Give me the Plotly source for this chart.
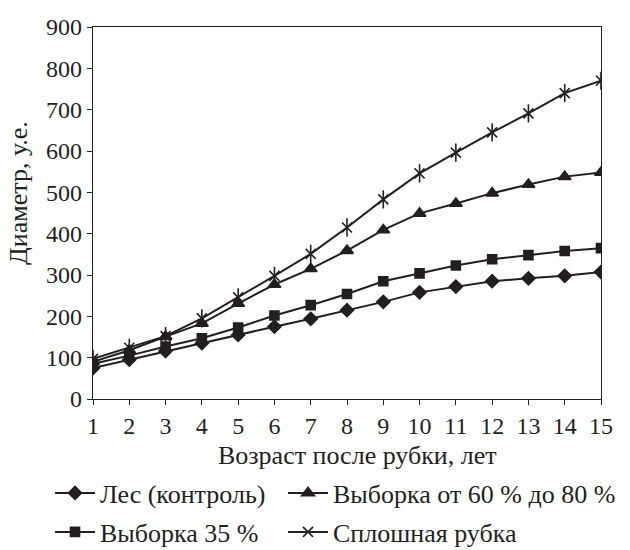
import plotly.graph_objects as go

# Возраст после рубки, лет
years = list(range(1, 16))

# Диаметр, у.е.
forest_control = [75, 95, 116, 135, 155, 175, 194, 215, 235, 258, 272, 285, 292, 298, 307]
selective_35 = [85, 105, 127, 147, 173, 202, 227, 254, 285, 304, 323, 338, 348, 358, 365]
selective_60_80 = [90, 118, 151, 183, 231, 277, 315, 359, 409, 449, 473, 498, 519, 538, 548]
clear_cut = [97, 124, 152, 195, 246, 298, 351, 415, 483, 546, 596, 645, 691, 740, 770]

x_title = "Возраст после рубки, лет"
y_title = "Диаметр, у.е."

INK = "#231f20"
FONT = "Liberation Serif, Times New Roman, serif"
TICK_FS = 24
TEXT_FS = 26

fig = go.Figure()


def add_series(name, values, symbol, size, legend):
    fig.add_trace(go.Scatter(
        x=years, y=values, name=name, mode="lines+markers",
        line=dict(color=INK, width=2),
        marker=dict(symbol=symbol, size=size, color=INK,
                    line=dict(color=INK, width=1.6)),
        legend=legend,
    ))


add_series("Лес (контроль)", forest_control, "diamond", 10, "legend")
add_series("Выборка от 60 % до 80 %", selective_60_80, "triangle-up", 11, "legend2")
add_series("Выборка 35 %", selective_35, "square", 9, "legend3")
add_series("Сплошная рубка", clear_cut, "x-thin-open", 10, "legend4")
# vertical stroke that completes the star marker of the clear-cut series
fig.add_trace(go.Scatter(
    x=years, y=clear_cut, mode="markers", showlegend=False, hoverinfo="skip",
    marker=dict(symbol="line-ns-open", size=13, color=INK,
                line=dict(color=INK, width=1.6)),
))

axis_common = dict(
    showline=True, linecolor=INK, linewidth=1.2, mirror=True,
    ticks="outside", ticklen=5, tickwidth=1.2, tickcolor=INK,
    showgrid=False, zeroline=False,
    tickfont=dict(family=FONT, size=TICK_FS, color=INK),
)


def legend_box(x, y):
    return dict(orientation="h", x=x, xanchor="left", y=y, yanchor="middle",
                font=dict(family=FONT, size=TEXT_FS, color=INK), itemclick=False,
                itemwidth=40, bgcolor="rgba(0,0,0,0)", borderwidth=0)


# plot area spans x 93..601 px and y 27..399 px; legend rows sit below it
row1_y = -(493 - 399) / 372
row2_y = -(532 - 399) / 372
col1_x = -0.0846
col2_x = 0.374

fig.update_layout(
    width=630, height=550,
    margin=dict(l=93, r=29, t=27, b=151, autoexpand=False),
    paper_bgcolor="white", plot_bgcolor="white",
    font=dict(family=FONT, size=TEXT_FS, color=INK),
    xaxis=dict(range=[1, 15], dtick=1, tick0=1, **axis_common),
    yaxis=dict(range=[0, 900], dtick=100, **axis_common),
    legend=legend_box(col1_x, row1_y),
    legend2=legend_box(col2_x, row1_y),
    legend3=legend_box(col1_x, row2_y),
    legend4=legend_box(col2_x, row2_y),
    showlegend=True,
    annotations=[
        dict(text=x_title, xref="paper", yref="paper", x=0.521, y=-(455 - 399) / 372,
             xanchor="center", yanchor="middle", showarrow=False,
             font=dict(family=FONT, size=TEXT_FS, color=INK)),
        dict(text=y_title, xref="paper", yref="paper", x=-0.1457, y=0.5538,
             xanchor="center", yanchor="middle", textangle=-90, showarrow=False,
             font=dict(family=FONT, size=TEXT_FS, color=INK)),
    ],
)

fig.write_html("out.html")
